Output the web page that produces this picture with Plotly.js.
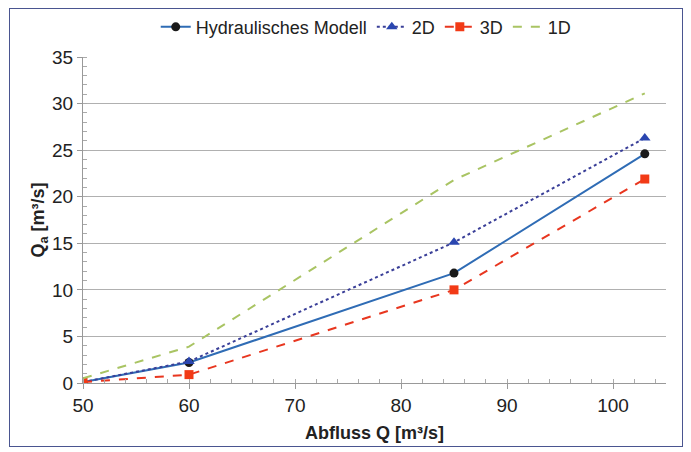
<!DOCTYPE html>
<html><head><meta charset="utf-8">
<script src="https://cdn.plot.ly/plotly-3.0.1.min.js"></script>
<style>
html,body{margin:0;padding:0;background:#fff;}
#wrap{position:relative;width:691px;height:452px;}
#chart{position:absolute;left:0;top:0;width:691px;height:452px;}
#frame{position:absolute;left:9px;top:8px;width:672px;height:437px;border:1.5px solid #4a5590;pointer-events:none;}
</style></head>
<body><div id="wrap"><div id="chart"></div><div id="frame"></div></div>
<script>
const abfluss = [50, 60, 85, 103];
const hydraulisch = [0.1, 2.2, 11.8, 24.6];
const d2 = [0.1, 2.3, 15.1, 26.3];
const d3 = [0.1, 0.9, 10.0, 21.9];
const d1 = [0.5, 3.9, 21.8, 31.1];
const seriesNames = ['Hydraulisches Modell', '2D', '3D', '1D'];

const traces = [
  {x: abfluss, y: hydraulisch, name: seriesNames[0], mode: 'lines+markers',
   line: {color: '#2f6cb5', width: 2}, marker: {color: '#1a1a1a', size: 9, symbol: 'circle'}},
  {x: abfluss, y: d2, name: seriesNames[1], mode: 'lines+markers',
   line: {color: '#3a3f98', width: 2, dash: 'dot'}, marker: {color: '#2a46b0', size: 10, symbol: 'triangle-up'}},
  {x: abfluss, y: d3, name: seriesNames[2], mode: 'lines+markers',
   line: {color: '#e8361f', width: 2, dash: 'dash'}, marker: {color: '#f23a16', size: 9, symbol: 'square'}},
  {x: abfluss, y: d1, name: seriesNames[3], mode: 'lines',
   line: {color: '#a9c463', width: 2, dash: 'dash'}}
];

const ff = 'Liberation Sans, Arial, sans-serif';
const layout = {
  width: 691, height: 452,
  margin: {l: 83, r: 25, t: 57, b: 69, autoexpand: false},
  paper_bgcolor: '#fff', plot_bgcolor: '#fff',
  font: {family: ff, size: 18, color: '#222'},
  showlegend: true,
  legend: {orientation: 'h', x: 0.53, xref: 'container', xanchor: 'center',
           y: 0.94, yref: 'container', yanchor: 'middle',
           font: {size: 18}, tracegroupgap: 0},
  xaxis: {
    range: [50, 105], tick0: 50, dtick: 10, showgrid: false, zeroline: false,
    showline: true, linecolor: '#999', linewidth: 1,
    ticks: 'outside', ticklen: 5, tickcolor: '#999',
    minor: {dtick: 2, ticks: 'inside', ticklen: 4, tickcolor: '#aaa'},
    title: {text: 'Abfluss Q [m³/s]', font: {size: 18, color: '#222', family: ff, weight: 'bold'}, standoff: 11},
    tickfont: {size: 19}
  },
  yaxis: {
    range: [0, 35], dtick: 5, showgrid: true, gridcolor: '#b0b0b0', gridwidth: 1, zeroline: false,
    showline: true, linecolor: '#999', linewidth: 1,
    ticks: 'outside', ticklen: 5, tickcolor: '#999',
    minor: {dtick: 1, ticks: 'inside', ticklen: 4, tickcolor: '#aaa', showgrid: false},
    title: {text: 'Q<sub>a</sub> [m³/s]', font: {size: 18, color: '#222', family: ff, weight: 'bold'}, standoff: 2},
    tickfont: {size: 19}
  }
};
Plotly.newPlot('chart', traces, layout, {displayModeBar: false, staticPlot: true});
</script></body></html>
